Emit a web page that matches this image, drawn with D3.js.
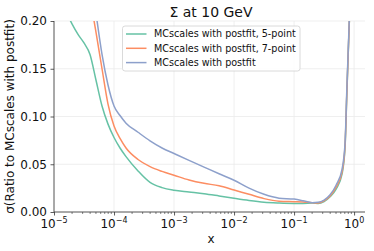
<!DOCTYPE html>
<html><head><meta charset="utf-8">
<script src="https://cdn.jsdelivr.net/npm/d3@7"></script>
<style>body{margin:0;background:#fff}svg{display:block;font-family:"DejaVu Sans",sans-serif}</style>
</head><body><svg id="c" width="374" height="251"></svg>
<script>
const xValues = [1.585e-5,1.995e-5,2.512e-5,3.162e-5,3.981e-5,5.012e-5,6.310e-5,7.943e-5,1e-4,1.259e-4,1.585e-4,2.512e-4,3.981e-4,6.310e-4,1e-3,1.778e-3,3.162e-3,5.623e-3,0.01,0.01778,0.03162,0.05623,0.1,0.1413,0.1995,0.2512,0.3162,0.3981,0.5012,0.6310,0.7079,0.7586,0.8128,0.8511];
const fivePoint = [0.21,0.197,0.186,0.177,0.165,0.138,0.111,0.092,0.078,0.067,0.058,0.043,0.031,0.0255,0.0228,0.021,0.0192,0.0168,0.0143,0.012,0.0102,0.0094,0.009,0.009,0.0093,0.009,0.011,0.016,0.024,0.040,0.068,0.125,0.18,0.215];
const sevenPoint = [0.37,0.335,0.30,0.262,0.225,0.188,0.15,0.113,0.09,0.077,0.067,0.055,0.0475,0.0425,0.0385,0.0335,0.030,0.0275,0.023,0.0185,0.014,0.0113,0.0108,0.0105,0.0098,0.0095,0.0118,0.0168,0.026,0.042,0.07,0.126,0.18,0.216];
const postfit = [0.42,0.38,0.34,0.30,0.255,0.208,0.165,0.133,0.111,0.101,0.093,0.0835,0.0745,0.067,0.0612,0.054,0.047,0.040,0.0333,0.025,0.0185,0.0145,0.0135,0.0118,0.0098,0.0102,0.0125,0.018,0.028,0.045,0.073,0.13,0.183,0.219];
const seriesNames = ["MCscales with postfit, 5-point","MCscales with postfit, 7-point","MCscales with postfit"];
const seriesColors = ["#66c2a5","#fc8d62","#8da0cb"];
const xTicks = [1e-5,1e-4,1e-3,1e-2,1e-1,1];
const xTickExp = ["\u22125","\u22124","\u22123","\u22122","\u22121","0"];
const yTicks = [0,0.05,0.10,0.15,0.20];
const title = "\u03a3 at 10 GeV";
const xLabel = "x";
const yLabel = "\u03c3(Ratio to MCscales with postfit)";

const svg = d3.select("#c");
const L=54, R=365, T=21, B=212;
const x = d3.scaleLog().domain([1e-5, 1.52]).range([L,R]);
const y = d3.scaleLinear().domain([0,0.2]).range([B,T]);

svg.append("defs").append("clipPath").attr("id","clip").append("rect")
  .attr("x",L).attr("y",T).attr("width",R-L).attr("height",B-T);

// grid
const g = svg.append("g");
g.selectAll(".gx").data(xTicks).join("line").attr("x1",d=>x(d)).attr("x2",d=>x(d))
  .attr("y1",T).attr("y2",B).attr("stroke","#ebebeb").attr("stroke-width",0.8);
g.selectAll(".gy").data(yTicks).join("line").attr("x1",L).attr("x2",R)
  .attr("y1",d=>y(d)).attr("y2",d=>y(d)).attr("stroke","#ebebeb").attr("stroke-width",0.8);

// lines
const series=[fivePoint,sevenPoint,postfit];
const line = d3.line().x((d,i)=>x(xValues[i])).y(d=>y(d)).curve(d3.curveMonotoneX);
const lg = svg.append("g").attr("clip-path","url(#clip)");
series.forEach((s,k)=>{
  lg.append("path").attr("d",line(s)).attr("fill","none").attr("stroke",seriesColors[k]).attr("stroke-width",1.5);
});

// axes
const minor=[];
for(let e=-5;e<=0;e++) for(let m=2;m<=9;m++){const v=m*Math.pow(10,e); if(v<=1.52) minor.push(v);}
const xa = d3.axisBottom(x).tickValues(xTicks).tickSize(3.5).tickPadding(3.5).tickFormat(()=> "");
const xg = svg.append("g").attr("transform",`translate(0,${B})`).call(xa);
xg.select(".domain").remove();
svg.append("g").attr("transform",`translate(0,${B})`).selectAll("line").data(minor).join("line")
  .attr("x1",d=>x(d)).attr("x2",d=>x(d)).attr("y1",0).attr("y2",2).attr("stroke","#333").attr("stroke-width",0.6);
xg.selectAll(".tick line").attr("stroke","#333").attr("stroke-width",0.8);
const tl = svg.append("g");
xTicks.forEach((t,i)=>{
  const tx = tl.append("text").attr("x",x(t)).attr("y",227.5).attr("text-anchor","middle").attr("font-size",12).attr("fill","#111");
  tx.append("tspan").text("10");
  tx.append("tspan").attr("dy",-4.5).attr("font-size",8).text(xTickExp[i]);
});
const ya = d3.axisLeft(y).tickValues(yTicks).tickSize(3.5).tickPadding(3.5).tickFormat(d3.format(".2f"));
const yg = svg.append("g").attr("transform",`translate(${L},0)`).call(ya);
yg.select(".domain").remove();
yg.selectAll(".tick line").attr("stroke","#333").attr("stroke-width",0.8);
yg.selectAll(".tick text").attr("font-size",12).attr("font-family","DejaVu Sans").attr("fill","#111");

svg.append("line").attr("x1",L).attr("x2",L).attr("y1",T).attr("y2",B).attr("stroke","#333").attr("stroke-width",0.8);
svg.append("line").attr("x1",L).attr("x2",R).attr("y1",B).attr("y2",B).attr("stroke","#333").attr("stroke-width",0.8);

// labels
svg.append("text").attr("x",211).attr("y",17).attr("text-anchor","middle").attr("font-size",14).attr("fill","#111").text(title);
svg.append("text").attr("x",211).attr("y",243).attr("text-anchor","middle").attr("font-size",12).attr("fill","#111").text(xLabel);
svg.append("text").attr("transform",`translate(14,${(T+B)/2}) rotate(-90)`).attr("text-anchor","middle").attr("font-size",12).attr("fill","#111").text(yLabel);

// legend
const leg = svg.append("g");
leg.append("rect").attr("x",122.5).attr("y",26).attr("width",177.5).attr("height",45).attr("rx",2.5)
  .attr("fill","#fff").attr("fill-opacity",0.85).attr("stroke","#d0d0d0").attr("stroke-width",0.8);
seriesNames.forEach((n,k)=>{
  const yy = 34 + k*14.3;
  leg.append("line").attr("x1",126).attr("x2",146.5).attr("y1",yy).attr("y2",yy).attr("stroke",seriesColors[k]).attr("stroke-width",1.5);
  leg.append("text").attr("x",154).attr("y",yy+3.4).attr("font-size",9.6).attr("fill","#111").text(n);
});
</script></body></html>
